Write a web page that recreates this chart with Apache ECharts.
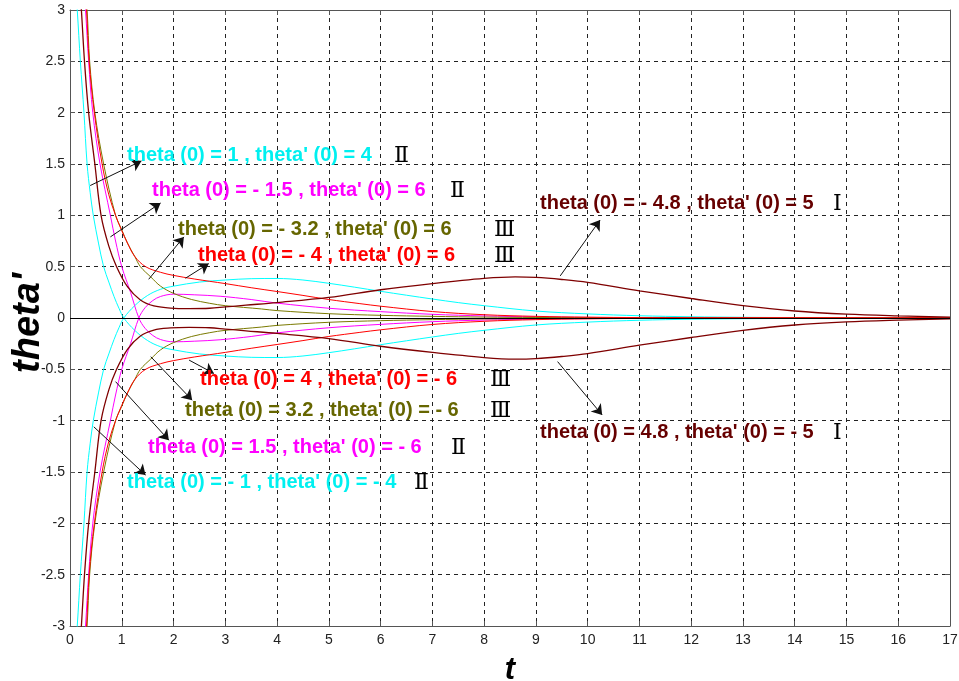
<!DOCTYPE html>
<html>
<head>
<meta charset="utf-8">
<script src="https://cdn.jsdelivr.net/npm/echarts@6/dist/echarts.min.js"></script>
<style>
  html, body { margin: 0; padding: 0; background: #fff; }
  #chart { width: 959px; height: 681px; }
</style>
</head>
<body>
<div id="chart"></div>
<script>
// Angular velocity theta'(t) of a damped pendulum for several initial conditions.
// Each curve: sample times + theta' values.

// theta(0) = 1, theta'(0) = 4  and its mirror theta(0) = -1, theta'(0) = -4
var tCyan = [0, 0.07, 0.14, 0.2, 0.27, 0.33, 0.39, 0.45, 0.55, 0.65, 0.75, 0.85, 0.95, 1.04, 1.25, 1.5, 1.75, 2.0, 2.5, 3.0, 3.5, 4.0, 4.5, 5.0, 5.5, 6.0, 6.5, 7.0, 7.5, 8.0, 9.0, 10, 11, 12, 13, 14, 15, 16, 17];
var vCyanA = [4.0, 3.5, 3.0, 2.5, 2.0, 1.5, 1.22, 1.0, 0.73, 0.5, 0.35, 0.21, 0.09, 0.0, -0.12, -0.22, -0.28, -0.31, -0.35, -0.37, -0.383, -0.385, -0.37, -0.338, -0.3, -0.26, -0.222, -0.185, -0.15, -0.12, -0.068, -0.04, -0.022, -0.012, -0.007, -0.004, -0.002, -0.001, -0.0005];
var vCyanB = [-4.0, -3.5, -3.0, -2.5, -2.0, -1.5, -1.22, -1.0, -0.73, -0.5, -0.35, -0.21, -0.09, 0.0, 0.12, 0.22, 0.28, 0.31, 0.35, 0.37, 0.383, 0.385, 0.37, 0.338, 0.3, 0.26, 0.222, 0.185, 0.15, 0.12, 0.068, 0.04, 0.022, 0.012, 0.007, 0.004, 0.002, 0.001, 0.0005];

// theta(0) = -1.5, theta'(0) = 6  and  theta(0) = 1.5, theta'(0) = -6
var tMag = [0, 0.1, 0.2, 0.3, 0.36, 0.44, 0.58, 0.78, 0.88, 1.0, 1.17, 1.33, 1.45, 1.6, 1.75, 2.0, 2.4, 2.9, 3.5, 4.0, 5.0, 6.0, 7.0, 8.0, 9.0, 10, 12, 14, 17];
var vMagA = [6.0, 4.75, 3.75, 3.0, 2.5, 2.0, 1.5, 1.0, 0.75, 0.5, 0.25, 0.0, -0.1, -0.17, -0.21, -0.232, -0.226, -0.212, -0.18, -0.145, -0.095, -0.062, -0.036, -0.02, -0.011, -0.006, -0.002, -0.001, 0];
var vMagB = [-6.0, -4.75, -3.75, -3.0, -2.5, -2.0, -1.5, -1.0, -0.75, -0.5, -0.25, 0.0, 0.1, 0.17, 0.21, 0.232, 0.226, 0.212, 0.18, 0.145, 0.095, 0.062, 0.036, 0.02, 0.011, 0.006, 0.002, 0.001, 0];

// theta(0) = -3.2, theta'(0) = 6  and  theta(0) = 3.2, theta'(0) = -6
var tOlive = [0, 0.1, 0.2, 0.33, 0.38, 0.48, 0.65, 0.88, 1.0, 1.11, 1.25, 1.36, 1.56, 1.75, 2.0, 2.35, 2.7, 3.0, 3.7, 4.0, 5.0, 6.0, 7.0, 8.0, 9.0, 10, 12, 17];
var vOliveA = [6.0, 4.85, 3.9, 3.0, 2.5, 2.0, 1.5, 1.0, 0.86, 0.73, 0.6, 0.5, 0.4, 0.31, 0.24, 0.18, 0.143, 0.12, 0.088, 0.072, 0.042, 0.026, 0.016, 0.009, 0.005, 0.003, 0.001, 0];
var vOliveB = [-6.0, -4.85, -3.9, -3.0, -2.5, -2.0, -1.5, -1.0, -0.86, -0.73, -0.6, -0.5, -0.4, -0.31, -0.24, -0.18, -0.143, -0.12, -0.088, -0.072, -0.042, -0.026, -0.016, -0.009, -0.005, -0.003, -0.001, 0];

// theta(0) = -4, theta'(0) = 6  and  theta(0) = 4, theta'(0) = -6
var tRed = [0, 0.1, 0.2, 0.32, 0.37, 0.47, 0.62, 0.75, 0.88, 1.0, 1.11, 1.25, 1.46, 1.75, 2.0, 2.4, 3.0, 3.5, 4.0, 4.5, 5.0, 5.6, 6.0, 7.0, 8.0, 9.0, 10, 11, 12, 14, 17];
var vRedA = [6.0, 4.9, 3.95, 3.0, 2.5, 2.0, 1.5, 1.2, 1.0, 0.85, 0.73, 0.6, 0.5, 0.445, 0.415, 0.38, 0.335, 0.295, 0.258, 0.22, 0.18, 0.14, 0.115, 0.063, 0.032, 0.016, 0.008, 0.004, 0.002, 0.0005, 0];
var vRedB = [-6.0, -4.9, -3.95, -3.0, -2.5, -2.0, -1.5, -1.2, -1.0, -0.85, -0.73, -0.6, -0.5, -0.445, -0.415, -0.38, -0.335, -0.295, -0.258, -0.22, -0.18, -0.14, -0.115, -0.063, -0.032, -0.016, -0.008, -0.004, -0.002, -0.0005, 0];

// theta(0) = -4.8, theta'(0) = 5  and  theta(0) = 4.8, theta'(0) = -5
var tBrown = [0, 0.1, 0.22, 0.28, 0.36, 0.48, 0.6, 0.75, 0.9, 1.11, 1.36, 1.62, 1.94, 2.3, 2.7, 3.0, 3.4, 4.0, 5.0, 6.0, 7.0, 8.0, 8.6, 9.0, 9.5, 10, 11, 12, 13, 14, 15, 16, 17];
var vBrownA = [5.0, 3.9, 3.0, 2.5, 2.0, 1.5, 1.0, 0.7, 0.5, 0.305, 0.175, 0.117, 0.097, 0.092, 0.095, 0.108, 0.125, 0.15, 0.2, 0.275, 0.335, 0.385, 0.4, 0.395, 0.375, 0.347, 0.265, 0.19, 0.12, 0.068, 0.037, 0.02, 0.008];
var vBrownB = [-5.0, -3.9, -3.0, -2.5, -2.0, -1.5, -1.0, -0.7, -0.5, -0.305, -0.175, -0.117, -0.097, -0.092, -0.095, -0.108, -0.125, -0.15, -0.2, -0.275, -0.335, -0.385, -0.4, -0.395, -0.375, -0.347, -0.265, -0.19, -0.12, -0.068, -0.037, -0.02, -0.008];

// Axis ranges and tick spacing
var xMin = 0, xMax = 17, xStep = 1;
var yMin = -3, yMax = 3, yStep = 0.5;

var COLORS = {
  cyan: '#00ffff',
  magenta: '#ff00ff',
  olive: '#7a7a00',
  red: '#ff0000',
  brown: '#7f0000'
};
var TEXT_COLORS = {
  cyan: '#00f0f0',
  magenta: '#ff00ff',
  olive: '#666600',
  red: '#ff0000',
  brown: '#660000'
};

function pairs(ts, vs) {
  return ts.map(function (t, i) { return [t, vs[i]]; });
}

function curve(name, ts, vs, color, width) {
  return {
    name: name,
    type: 'line',
    data: pairs(ts, vs),
    showSymbol: false,
    symbol: 'none',
    smooth: 0.35,
    clip: true,
    silent: true,
    lineStyle: { color: color, width: width || 1 },
    z: 3
  };
}

// Annotation arrows from each curve to its caption, in data coordinates
var arrows = [
  [[0.39, 1.29], [1.38, 1.53]],
  [[0.78, 0.79], [1.75, 1.12]],
  [[1.52, 0.377], [2.2, 0.79]],
  [[2.23, 0.387], [2.68, 0.53]],
  [[9.47, 0.41], [10.24, 0.954]],
  [[2.30, -0.41], [2.78, -0.54]],
  [[1.56, -0.377], [2.36, -0.80]],
  [[0.88, -0.62], [1.91, -1.19]],
  [[0.46, -1.06], [1.46, -1.53]],
  [[9.42, -0.425], [10.28, -0.944]]
];

// Captions: [text, colour key, left x, centre y, roman numeral, numeral x]
var captions = [
  ["theta (0) = 1 , theta' (0) = 4", 'cyan', 127, 155, 'Ⅱ', 394],
  ["theta (0) = - 1.5 , theta' (0) = 6", 'magenta', 152, 190, 'Ⅱ', 450],
  ["theta (0) = - 3.2 , theta' (0) = 6", 'olive', 178, 229, 'Ⅲ', 494],
  ["theta (0) = - 4 , theta' (0) = 6", 'red', 198, 255, 'Ⅲ', 494],
  ["theta (0) = - 4.8 , theta' (0) = 5", 'brown', 540, 203, 'Ⅰ', 833],
  ["theta (0) = 4 , theta' (0) = - 6", 'red', 200, 379, 'Ⅲ', 490],
  ["theta (0) = 3.2 , theta' (0) = - 6", 'olive', 185, 410, 'Ⅲ', 490],
  ["theta (0) = 1.5 , theta' (0) = - 6", 'magenta', 148, 447, 'Ⅱ', 451],
  ["theta (0) = - 1 , theta' (0) = - 4", 'cyan', 127, 482, 'Ⅱ', 414],
  ["theta (0) = 4.8 , theta' (0) = - 5", 'brown', 540, 432, 'Ⅰ', 833]
];

var graphics = [];
captions.forEach(function (c) {
  graphics.push({
    type: 'text',
    x: c[2], y: c[3],
    silent: true,
    z: 20,
    style: {
      text: c[0],
      fill: TEXT_COLORS[c[1]],
      font: 'bold 20px "Liberation Sans", Arial, sans-serif',
      textAlign: 'left',
      textVerticalAlign: 'middle'
    }
  });
  graphics.push({
    type: 'text',
    x: c[5], y: c[3] + 1,
    silent: true,
    z: 20,
    style: {
      text: c[4],
      fill: '#000',
      font: '22px "DejaVu Serif", "Liberation Serif", serif',
      textAlign: 'left',
      textVerticalAlign: 'middle'
    }
  });
});

// Vertical axis title
graphics.push({
  type: 'text',
  x: 29, y: 323,
  rotation: Math.PI / 2,
  silent: true,
  z: 20,
  style: {
    text: "theta'",
    fill: '#000',
    font: 'italic bold 38px "Liberation Sans", Arial, sans-serif',
    textAlign: 'center',
    textVerticalAlign: 'middle'
  }
});

var axisLineStyle = { color: '#555', width: 1 };

var option = {
  backgroundColor: '#fff',
  animation: false,
  grid: { left: 70, right: 9, top: 10, bottom: 55, containLabel: false, outerBoundsMode: 'none' },
  xAxis: [{
    type: 'value',
    min: xMin, max: xMax, interval: xStep,
    name: 't',
    nameLocation: 'middle',
    nameGap: 29,
    nameTextStyle: { fontSize: 31, fontWeight: 'bold', fontStyle: 'italic', color: '#000', fontFamily: '"Liberation Sans", Arial, sans-serif' },
    axisLine: { show: true, onZero: false, lineStyle: axisLineStyle },
    axisTick: { show: true, inside: true, length: 5, lineStyle: axisLineStyle },
    axisLabel: { color: '#222', fontSize: 14, margin: 7, fontFamily: '"Liberation Sans", Arial, sans-serif' },
    splitLine: { show: true, lineStyle: { color: '#222', type: [4, 4], width: 1 } }
  }, {
    type: 'value', position: 'top',
    min: xMin, max: xMax, interval: xStep,
    axisLine: { show: true, onZero: false, lineStyle: axisLineStyle },
    axisTick: { show: true, inside: true, length: 5, lineStyle: axisLineStyle },
    axisLabel: { show: false },
    splitLine: { show: false }
  }],
  yAxis: [{
    type: 'value',
    min: yMin, max: yMax, interval: yStep,
    axisLine: { show: true, onZero: false, lineStyle: axisLineStyle },
    axisTick: { show: true, inside: true, length: 5, lineStyle: axisLineStyle },
    axisLabel: { color: '#222', fontSize: 14, margin: 5, fontFamily: '"Liberation Sans", Arial, sans-serif' },
    splitLine: { show: true, lineStyle: { color: '#222', type: [4, 4], width: 1 } }
  }, {
    type: 'value', position: 'right',
    min: yMin, max: yMax, interval: yStep,
    axisLine: { show: true, onZero: false, lineStyle: axisLineStyle },
    axisTick: { show: true, inside: true, length: 5, lineStyle: axisLineStyle },
    axisLabel: { show: false },
    splitLine: { show: false }
  }],
  graphic: graphics,
  series: [
    {
      name: 'zero',
      type: 'line',
      data: [],
      silent: true,
      z: 2,
      markLine: {
        silent: true,
        symbol: 'none',
        label: { show: false },
        lineStyle: { color: '#000', type: 'solid', width: 1 },
        data: [{ yAxis: 0 }]
      }
    },
    curve('cyan A', tCyan, vCyanA, COLORS.cyan),
    curve('cyan B', tCyan, vCyanB, COLORS.cyan),
    curve('magenta A', tMag, vMagA, COLORS.magenta),
    curve('magenta B', tMag, vMagB, COLORS.magenta),
    curve('olive A', tOlive, vOliveA, COLORS.olive),
    curve('olive B', tOlive, vOliveB, COLORS.olive),
    curve('red A', tRed, vRedA, COLORS.red),
    curve('red B', tRed, vRedB, COLORS.red),
    curve('brown A', tBrown, vBrownA, COLORS.brown, 1.3),
    curve('brown B', tBrown, vBrownB, COLORS.brown, 1.3),
    {
      name: 'arrows',
      type: 'line',
      data: [],
      silent: true,
      z: 10,
      markLine: {
        silent: true,
        symbol: ['none', 'arrow'],
        symbolSize: 10,
        label: { show: false },
        lineStyle: { color: '#111', type: 'solid', width: 1 },
        emphasis: { disabled: true },
        data: arrows.map(function (a) {
          return [{ coord: a[0] }, { coord: a[1] }];
        })
      }
    }
  ]
};

var chart = echarts.init(document.getElementById('chart'), null, { renderer: 'canvas' });
chart.setOption(option);
</script>
</body>
</html>
